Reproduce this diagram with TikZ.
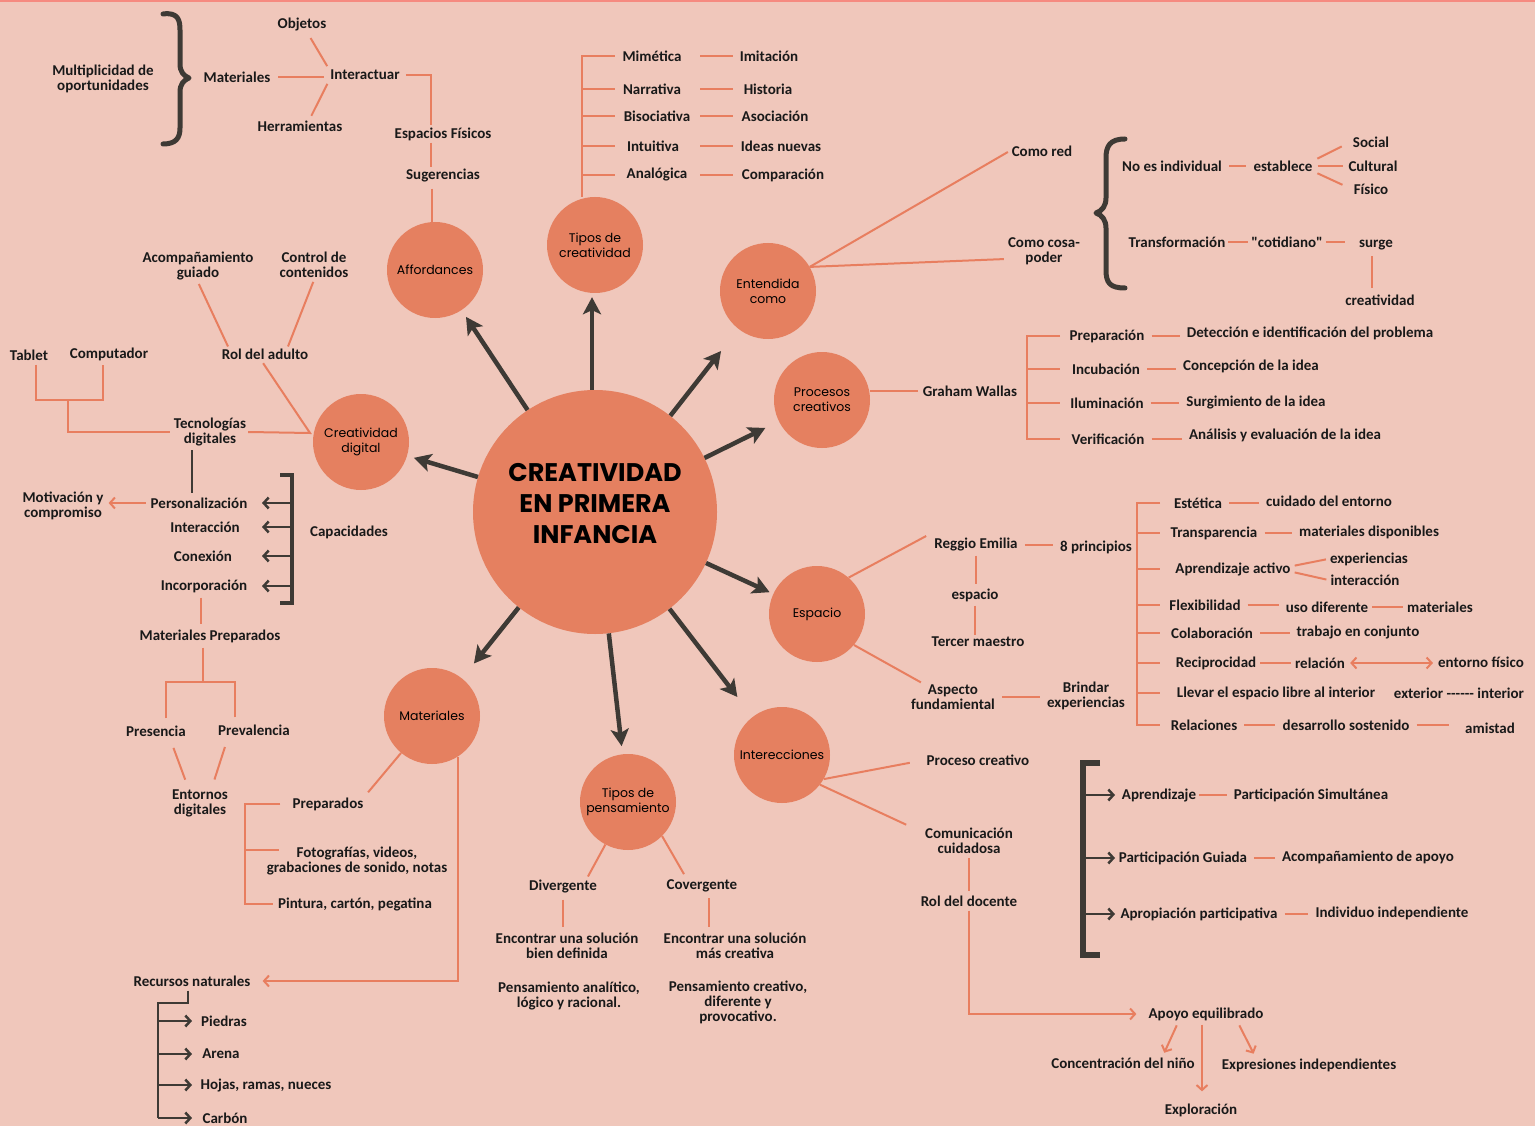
\documentclass[tikz,border=0pt]{standalone}
\usepackage{fontspec}
\setmainfont{Carlito}
\newfontfamily\bubblefont{Poppins}
\usetikzlibrary{arrows.meta,positioning,calc}

\definecolor{bgrose}{RGB}{240,199,187}
\definecolor{coral}{RGB}{229,128,96}
\definecolor{twigc}{RGB}{232,126,95}
\definecolor{ink}{RGB}{62,58,53}
\definecolor{topline}{RGB}{246,138,128}

\begin{document}
\begin{tikzpicture}[
    x=1pt, y=-1pt,
    hub/.style={circle, fill=coral, minimum size=244pt, inner sep=0pt},
    hubtext/.style={align=center, text=black, font=\bubblefont\bfseries\fontsize{25.5}{31}\selectfont},
    bubble/.style={circle, fill=coral, minimum size=96pt, inner sep=0pt, align=center, text=black, font=\bubblefont\fontsize{12.5}{15}\selectfont},
    lbl/.style={inner sep=2pt, align=center, text=black!90, font=\bfseries\fontsize{15}{15}\selectfont},
    twig/.style={draw=twigc, line width=2pt},
    twigarrow/.style={twig, -{Straight Barb[length=5pt,width=11pt]}},
    spoke/.style={draw=ink, line width=4.5pt, -{Stealth[length=17pt,width=18pt,inset=4pt]}},
    inkline/.style={draw=ink, line width=2.5pt},
    inkarrow/.style={inkline, -{Straight Barb[length=5pt,width=11pt]}},
    bracketline/.style={draw=ink, line width=5pt, line cap=round, line join=round},
    dashlink/.style={twig, shorten <=5pt, shorten >=5pt}
]

% --- Background ---
\fill[bgrose] (0,0) rectangle (1535,1126);
\useasboundingbox (0,0) rectangle (1535,1126);
\draw[topline, line width=3pt] (0,1) -- (1535,1);

% --- Hub and bubbles ---
\node[hub] (core) at (595,512) {};
\node[hubtext] (coretxt) at (595,504) {CREATIVIDAD\\EN PRIMERA\\INFANCIA};
\node[bubble] (aff) at (435,270) {Affordances};
\node[bubble] (tcre) at (595,245) {Tipos de\\creatividad};
\node[bubble] (ent) at (768,291) {Entendida\\como};
\node[bubble] (proc) at (822,400) {Procesos\\creativos};
\node[bubble] (esp) at (817,614) {Espacio};
\node[bubble] (inter) at (782,755) {Interecciones};
\node[bubble] (tpen) at (628,802) {Tipos de\\pensamiento};
\node[bubble] (mat) at (432,716) {Materiales};
\node[bubble] (cdig) at (361,442) {Creatividad\\digital};

\draw[spoke, shorten >=8pt] (core) -- (aff);
\draw[spoke, shorten >=4pt] ([xshift=-3pt]core.north) -- ([xshift=-3pt]tcre.south);
\draw[spoke, shorten >=28pt] (core) -- (ent);
\draw[spoke, shorten >=15pt] (core) -- (proc);
\draw[spoke, shorten >=4pt] (core) -- (esp);
\draw[spoke, shorten >=25pt] (core) -- (inter);
\draw[spoke, shorten >=8pt] (core) -- (tpen);
\draw[spoke, shorten >=19pt] (core) -- (mat);
\draw[spoke, shorten >=7pt] (core) -- (cdig);

% --- Affordances ---
\node[lbl] (multi) at (103,79) {Multiplicidad de\\oportunidades};
\node[lbl] (amat) at (237,77) {Materiales};
\node[lbl] (obj) at (302,25) {Objetos};
\node[lbl] (interac) at (365,75) {Interactuar};
\node[lbl] (herr) at (300,126) {Herramientas};
\node[lbl] (espf) at (443,134) {Espacios Físicos};
\node[lbl] (suger) at (443,176) {Sugerencias};

\draw[bracketline] (163,14) .. controls (178,12) and (180,20) .. (180,30) -- (180,64)
    .. controls (180,72) and (184,76) .. (189,78) .. controls (184,80) and (180,84) .. (180,92)
    -- (180,128) .. controls (180,138) and (176,144) .. (163,144);
\draw[twig, shorten <=6pt, shorten >=4pt] (amat.east) -- (amat.east -| interac.west);
\draw[twig, shorten <=5pt, shorten >=2pt] ([xshift=6pt]obj.south) -- (interac.north west);
\draw[twig, shorten <=3pt, shorten >=2pt] ([xshift=10pt]herr.north) -- (interac.south west);
\draw[twig, shorten <=4pt] (interac.east) -| ([xshift=-12pt]espf.north);
\draw[twig] ([xshift=-12pt]espf.south) -- ([xshift=-12pt]suger.north);
\draw[twig, shorten <=4pt] ([xshift=-11pt]suger.south) -- ([xshift=-11pt]suger.south |- aff.north);

% --- Creatividad digital ---
\node[lbl] (acomp) at (198,266) {Acompañamiento\\guiado};
\node[lbl] (ctrl) at (314,265) {Control de\\contenidos};
\node[lbl] (roladul) at (265,354) {Rol del adulto};
\node[lbl] (tablet) at (29,355) {Tablet};
\node[lbl] (compu) at (109,354) {Computador};
\node[lbl] (tec) at (210,432) {Tecnologías\\digitales};
\coordinate (cdjoin) at (310,433);
\coordinate (tcbar) at (68,400);

\draw[twig, shorten <=2pt] (acomp.south) -- ([xshift=-37pt]roladul.north);
\draw[twig, shorten <=2pt] (ctrl.south) -- ([xshift=23pt]roladul.north);
\draw[twig, shorten <=2pt] ([xshift=-3pt]roladul.south) -- (cdjoin) -- (tec.east);
\draw[twig, shorten <=2pt, shorten >=2pt] ([xshift=7pt]tablet.south) |- (tcbar) -| ([xshift=-6pt]compu.south);
\draw[twig, shorten >=2pt] (tcbar) |- (tec.west);

\node[lbl] (motiv) at (63,506) {Motivación y\\compromiso};
\node[lbl] (pers) at (199,503) {Personalización};
\node[lbl] (intera) at (205,527) {Interacción};
\node[lbl] (conex) at (203,556) {Conexión};
\node[lbl] (incorp) at (204,586) {Incorporación};
\node[lbl] (capac) at (349,532) {Capacidades};
\coordinate (capbar) at (292,475);
\coordinate (capbot) at (292,603);
\coordinate (captip) at (262,475);

\draw[inkline, shorten <=2pt, shorten >=2pt] ([xshift=-18pt]tec.south) -- ([xshift=-7pt]pers.north);
\draw[twigarrow, shorten <=3pt, shorten >=3pt] (pers.west) -- (pers.west -| motiv.east);
\draw[bracketline, line width=4pt, line cap=butt, line join=miter] ([xshift=-12pt]capbar) -- (capbar) -- (capbot) -- ([xshift=-12pt]capbot);
\draw[inkarrow] (capbar |- pers) -- (captip |- pers);
\draw[inkarrow] (capbar |- intera) -- (captip |- intera);
\draw[inkarrow] (capbar |- conex) -- (captip |- conex);
\draw[inkarrow] (capbar |- incorp) -- (captip |- incorp);

\node[lbl] (matprep) at (210,636) {Materiales Preparados};
\node[lbl] (presen) at (156,731) {Presencia};
\node[lbl] (preval) at (254,730) {Prevalencia};
\node[lbl] (entdig) at (200,803) {Entornos\\digitales};
\coordinate (ppbar) at (203,682);

\draw[twig, shorten <=3pt, shorten >=3pt] ([xshift=-3pt]incorp.south) -- ([xshift=-9pt]matprep.north);
\draw[twig, shorten <=3pt] ([xshift=-7pt]matprep.south) -- (ppbar);
\draw[twig, shorten <=5pt] ([xshift=10pt]presen.north) |- (ppbar);
\draw[twig, shorten <=5pt] ([xshift=-19pt]preval.north) |- (ppbar);
\draw[twig, shorten <=10pt, shorten >=8pt] ([xshift=14pt]presen.south) -- ([xshift=-12pt]entdig.north);
\draw[twig, shorten <=10pt, shorten >=8pt] ([xshift=-26pt]preval.south) -- ([xshift=12pt]entdig.north);

% --- Materiales ---
\node[lbl] (prep) at (328,804) {Preparados};
\node[lbl] (foto) at (357,861) {Fotografías, videos,\\grabaciones de sonido, notas};
\node[lbl] (pint) at (355,904) {Pintura, cartón, pegatina};
\node[lbl] (recur) at (192,981) {Recursos naturales};
\node[lbl] (piedras) at (224,1021) {Piedras};
\node[lbl] (arena) at (221,1054) {Arena};
\node[lbl] (hojas) at (266,1085) {Hojas, ramas, nueces};
\node[lbl] (carbon) at (225,1118) {Carbón};
\coordinate (prepbar) at (245,804);
\coordinate (fototick) at (279,850);
\coordinate (recbar) at (158,1003);
\coordinate (rectip) at (192,1003);

\draw[twig, shorten >=4pt] (mat) -- (prep.north east);
\draw[twig, shorten <=10pt] (prep.west) -| (prepbar |- pint) -- ([xshift=-3pt]pint.west);
\draw[twig] (prepbar |- fototick) -- (fototick);
\draw[twigarrow, shorten >=10pt] (mat.-58) |- (recur.east);
\draw[inkline, shorten <=2pt] ([xshift=-4pt]recur.south) |- (recbar) -- (recbar |- carbon);
\draw[inkarrow] (recbar |- piedras) -- (rectip |- piedras);
\draw[inkarrow] (recbar |- arena) -- (rectip |- arena);
\draw[inkarrow] (recbar |- hojas) -- (rectip |- hojas);
\draw[inkarrow] (recbar |- carbon) -- (rectip |- carbon);

% --- Tipos de creatividad ---
\node[lbl] (mim) at (652,56) {Mimética};
\node[lbl] (narr) at (652,89) {Narrativa};
\node[lbl] (bisoc) at (657,116) {Bisociativa};
\node[lbl] (intu) at (653,146) {Intuitiva};
\node[lbl] (analo) at (657,175) {Analógica};
\node[lbl] (imit) at (769,56) {Imitación};
\node[lbl] (hist) at (768,89) {Historia};
\node[lbl] (asoc) at (775,116) {Asociación};
\node[lbl] (ideas) at (781,146) {Ideas nuevas};
\node[lbl] (compa) at (783,175) {Comparación};
\coordinate (tcspine) at ([xshift=-13pt]tcre.north);
\coordinate (tctick) at (615,53);
\coordinate (tcdash) at (700,53);
\coordinate (tcdashend) at (733,53);

\draw[twig] (tcspine) |- (tctick |- mim);
\draw[twig] (tcspine |- narr) -- (tctick |- narr);
\draw[twig] (tcspine |- bisoc) -- (tctick |- bisoc);
\draw[twig] (tcspine |- intu) -- (tctick |- intu);
\draw[twig] (tcspine |- analo) -- (tctick |- analo);
\draw[twig] (tcdash |- mim) -- (tcdashend |- imit);
\draw[twig] (tcdash |- narr) -- (tcdashend |- hist);
\draw[twig] (tcdash |- bisoc) -- (tcdashend |- asoc);
\draw[twig] (tcdash |- intu) -- (tcdashend |- ideas);
\draw[twig] (tcdash |- analo) -- (tcdashend |- compa);

% --- Entendida como ---
\node[lbl] (cred) at (1042,151) {Como red};
\node[lbl] (ccosa) at (1044,251) {Como cosa-\\poder};
\node[lbl] (noind) at (1172,166) {No es individual};
\node[lbl] (estab) at (1283,166) {establece};
\node[lbl] (social) at (1371,142) {Social};
\node[lbl] (cult) at (1373,166) {Cultural};
\node[lbl] (fis) at (1371,189) {Físico};
\node[lbl] (transf) at (1177,242) {Transformación};
\node[lbl] (cotid) at (1287,242) {\textquotedbl cotidiano\textquotedbl};
\node[lbl] (surge) at (1376,245) {surge};
\node[lbl] (crea) at (1380,300) {creatividad};

\draw[twig, shorten >=2pt] (ent.30) -- (cred.west);
\draw[twig, shorten >=2pt] (ent.30) -- ([yshift=-8pt]ccosa.west);
\draw[bracketline] (1125,139) .. controls (1110,139) and (1106,146) .. (1106,158) -- (1106,198)
    .. controls (1106,206) and (1102,211) .. (1096,213) .. controls (1102,215) and (1106,220) .. (1106,228)
    -- (1106,270) .. controls (1106,283) and (1110,288) .. (1125,288);
\draw[dashlink] (noind.east) -- (noind.east -| estab.west);
\draw[twig, shorten <=3pt, shorten >=10pt] ([yshift=6pt]estab.east) -- (social.west);
\draw[twig, shorten <=3pt, shorten >=3pt] (estab.east) -- (estab.east -| cult.west);
\draw[twig, shorten <=3pt, shorten >=10pt] ([yshift=-6pt]estab.east) -- (fis.west);
\draw[dashlink, shorten <=1pt, shorten >=1pt] (transf.east) -- (transf.east -| cotid.west);
\draw[dashlink, shorten <=1pt, shorten >=12pt] (cotid.east) -- (cotid.east -| surge.west);
\draw[twig, shorten <=4pt, shorten >=4pt] ([xshift=-4pt]surge.south) -- ([xshift=-8pt]crea.north);

% --- Procesos creativos ---
\node[lbl] (graham) at (970,391) {Graham Wallas};
\node[lbl] (prepa) at (1107,336) {Preparación};
\node[lbl] (incub) at (1106,369) {Incubación};
\node[lbl] (ilum) at (1107,403) {Iluminación};
\node[lbl] (verif) at (1108,439) {Verificación};
\node[lbl] (detec) at (1310,333) {Detección e identificación del problema};
\node[lbl] (concep) at (1251,366) {Concepción de la idea};
\node[lbl] (surgi) at (1256,403) {Surgimiento de la idea};
\node[lbl] (anali) at (1285,435) {Análisis y evaluación de la idea};
\coordinate (gwbar) at (1027,337);
\coordinate (gwtick) at (1060,337);

\draw[twig, shorten >=3pt] ([yshift=9pt]proc.east) -- (graham.west);
\draw[twig] (gwtick |- prepa) -| (gwbar |- verif) -- (gwtick |- verif);
\draw[twig] (gwbar |- incub) -- (gwtick |- incub);
\draw[twig] (gwbar |- ilum) -- (gwtick |- ilum);
\draw[dashlink] (prepa.east) -- (prepa.east -| detec.west);
\draw[dashlink] (incub.east) -- (incub.east -| concep.west);
\draw[dashlink] (ilum.east) -- (ilum.east -| surgi.west);
\draw[dashlink] (verif.east) -- (verif.east -| anali.west);

% --- Espacio ---
\node[lbl] (reggio) at (976,545) {Reggio Emilia};
\node[lbl] (ochop) at (1096,547) {8 principios};
\node[lbl] (espac) at (975,595) {espacio};
\node[lbl] (tercer) at (978,642) {Tercer maestro};
\node[lbl] (aspecto) at (953,697) {Aspecto\\fundamiental};
\node[lbl] (brindar) at (1086,696) {Brindar\\experiencias};
\coordinate (ebar) at (1137,502);
\coordinate (etick) at (1160,502);

\draw[twig] (esp.49) -- ([shift={(-6pt,9pt)}]reggio.west);
\draw[twig] (esp.-40) -- ([xshift=12pt]aspecto.north west);
\draw[dashlink] (reggio.east) -- (reggio.east -| ochop.west);
\draw[twig, shorten <=2pt, shorten >=2pt] (reggio.south) -- (reggio.south |- espac.north);
\draw[twig, shorten <=2pt] (espac.south) -- (espac.south |- tercer.north);
\draw[dashlink] (aspecto.east) -- (aspecto.east -| brindar.west);

\node[lbl] (estet) at (1198,503) {Estética};
\node[lbl] (cuid) at (1329,501) {cuidado del entorno};
\node[lbl] (transp) at (1214,533) {Transparencia};
\node[lbl] (matdisp) at (1369,532) {materiales disponibles};
\node[lbl] (aprac) at (1233,569) {Aprendizaje activo};
\node[lbl] (exper) at (1369,559) {experiencias};
\node[lbl] (interacc) at (1365,580) {interacción};
\node[lbl] (flex) at (1205,605) {Flexibilidad};
\node[lbl] (usodif) at (1327,607) {uso diferente};
\node[lbl] (materi) at (1440,607) {materiales};
\node[lbl] (colab) at (1212,633) {Colaboración};
\node[lbl] (trabajo) at (1358,633) {trabajo en conjunto};
\node[lbl] (recip) at (1216,663) {Reciprocidad};
\node[lbl] (relac) at (1320,663) {relación};
\node[lbl] (entfis) at (1481,662) {entorno físico};
\node[lbl] (llevar) at (1276,693) {Llevar el espacio libre al interior};
\node[lbl] (extint) at (1459,693) {exterior {-}{-}{-}{-}{-}{-} interior};
\node[lbl] (relaciones) at (1204,725) {Relaciones};
\node[lbl] (desarr) at (1346,725) {desarrollo sostenido};
\node[lbl] (amistad) at (1490,728) {amistad};

\draw[twig] (etick |- estet) -| (ebar |- relaciones) -- (etick |- relaciones);
\draw[twig] (ebar |- transp) -- (etick |- transp);
\draw[twig] (ebar |- aprac) -- (etick |- aprac);
\draw[twig] (ebar |- flex) -- (etick |- flex);
\draw[twig] (ebar |- colab) -- (etick |- colab);
\draw[twig] (ebar |- recip) -- (etick |- recip);
\draw[twig] (ebar |- llevar) -- (etick |- llevar);
\draw[dashlink] (estet.east) -- (estet.east -| cuid.west);
\draw[dashlink] (transp.east) -- (transp.east -| matdisp.west);
\draw[twig, shorten <=2pt, shorten >=2pt] ([yshift=3pt]aprac.east) -- (exper.west);
\draw[twig, shorten <=2pt, shorten >=2pt] ([yshift=-3pt]aprac.east) -- (interacc.west);
\draw[dashlink] (flex.east) -- (flex.east -| usodif.west);
\draw[dashlink, shorten <=2pt, shorten >=2pt] (usodif.east) -- (usodif.east -| materi.west);
\draw[dashlink] (colab.east) -- (colab.east -| trabajo.west);
\draw[dashlink, shorten <=2pt, shorten >=2pt] (recip.east) -- (recip.east -| relac.west);
\draw[twig, {Straight Barb[length=5pt,width=11pt]}-{Straight Barb[length=5pt,width=11pt]}, shorten <=3pt, shorten >=3pt] (relac.east) -- (relac.east -| entfis.west);
\draw[dashlink] (relaciones.east) -- (relaciones.east -| desarr.west);
\draw[dashlink, shorten >=14pt] (desarr.east) -- (desarr.east -| amistad.west);

% --- Interecciones ---
\node[lbl] (proccrea) at (978,760) {Proceso creativo};
\node[lbl] (comun) at (969,841) {Comunicación\\cuidadosa};
\node[lbl] (roldoc) at (969,901) {Rol del docente};
\node[lbl] (apoyo) at (1206,1014) {Apoyo equilibrado};
\node[lbl] (concen) at (1123,1063) {Concentración del niño};
\node[lbl] (explo) at (1201,1110) {Exploración};
\node[lbl] (expres) at (1309,1065) {Expresiones independientes};
\node[lbl] (aprend) at (1159,795) {Aprendizaje};
\node[lbl] (partsim) at (1311,795) {Participación Simultánea};
\node[lbl] (partguia) at (1183,858) {Participación Guiada};
\node[lbl] (acompap) at (1368,857) {Acompañamiento de apoyo};
\node[lbl] (aprop) at (1199,914) {Apropiación participativa};
\node[lbl] (indiv) at (1392,913) {Individuo independiente};
\coordinate (ibar) at (1083,763);
\coordinate (ibot) at (1083,955);
\coordinate (itip) at (1115,763);

\draw[twig, shorten >=15pt] (inter.-30) -- (proccrea.west);
\draw[twig, shorten >=3pt] (inter.-38) -- ([xshift=-14pt]comun.north west);
\draw[twig, shorten <=2pt, shorten >=2pt] (comun.south) -- (comun.south |- roldoc.north);
\draw[twigarrow, shorten <=2pt, shorten >=10pt] (roldoc.south) |- (apoyo.west);
\draw[twigarrow, shorten <=3pt, shorten >=3pt] ([xshift=-28pt]apoyo.south) -- ([xshift=40pt]concen.north);
\draw[twigarrow, shorten <=2pt, shorten >=10pt] ([xshift=-4pt]apoyo.south) -- ([xshift=-4pt]apoyo.south |- explo.north);
\draw[twigarrow, shorten <=3pt, shorten >=3pt] ([xshift=32pt]apoyo.south) -- ([xshift=-54pt]expres.north);

\draw[bracketline, line width=6pt, line cap=butt, line join=miter] ([xshift=17pt]ibar) -- (ibar) -- (ibot) -- ([xshift=17pt]ibot);
\draw[inkarrow] (ibar |- aprend) -- (itip |- aprend);
\draw[inkarrow] (ibar |- partguia) -- (itip |- partguia);
\draw[inkarrow] (ibar |- aprop) -- (itip |- aprop);
\draw[dashlink, shorten <=1pt] (aprend.east) -- (aprend.east -| partsim.west);
\draw[dashlink] (partguia.east) -- (partguia.east -| acompap.west);
\draw[dashlink] (aprop.east) -- (aprop.east -| indiv.west);

% --- Tipos de pensamiento ---
\node[lbl] (diverg) at (563,887) {Divergente};
\node[lbl] (converg) at (702,886) {Covergente};
\node[lbl] (encdef) at (567,946) {Encontrar una solución\\bien definida};
\node[lbl] (enccrea) at (735,946) {Encontrar una solución\\más creativa};
\node[lbl] (pensana) at (569,996) {Pensamiento analítico,\\lógico y racional.};
\node[lbl] (pensacrea) at (738,1002) {Pensamiento creativo,\\diferente y\\provocativo.};

\draw[twig, shorten >=2pt] (tpen.-118) -- ([xshift=24pt]diverg.north);
\draw[twig, shorten >=4pt] (tpen.-45) -- ([xshift=-16pt]converg.north);
\draw[twig, shorten <=4pt, shorten >=4pt] (diverg.south) -- (diverg.south |- encdef.north);
\draw[twig, shorten <=4pt, shorten >=4pt] ([xshift=7pt]converg.south) -- ([xshift=7pt]converg.south |- enccrea.north);

\end{tikzpicture}
\end{document}
